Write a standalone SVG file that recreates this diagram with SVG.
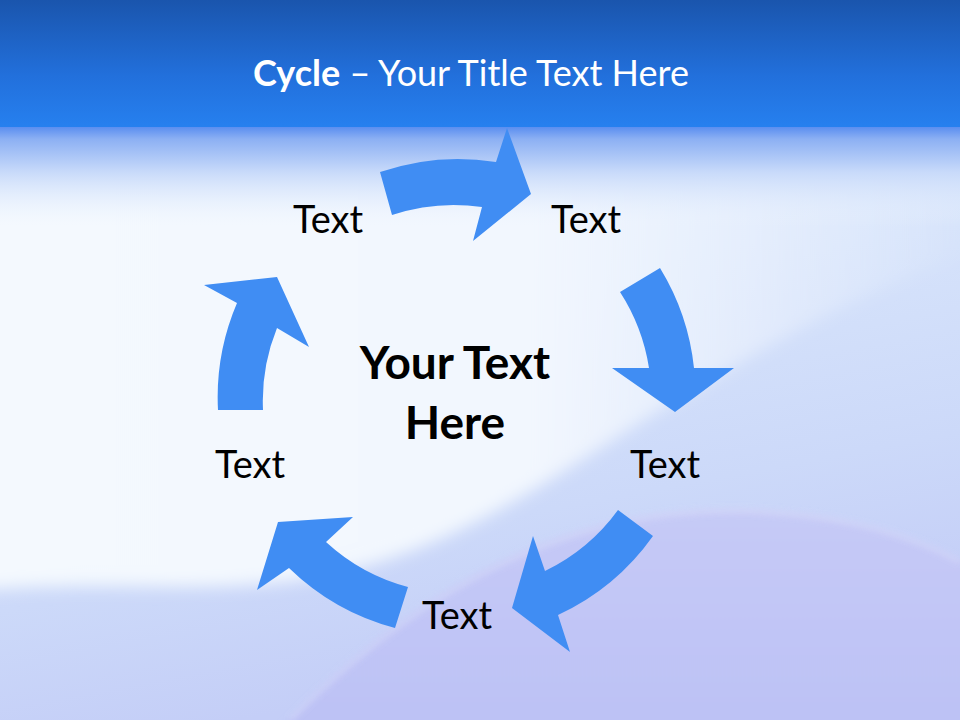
<svg xmlns="http://www.w3.org/2000/svg" width="960" height="720" viewBox="0 0 960 720">
  <defs>
    <linearGradient id="bgBase" x1="0" y1="0" x2="0.25" y2="1">
      <stop offset="0" stop-color="#e6effd"/>
      <stop offset="0.5" stop-color="#d7e4fb"/>
      <stop offset="0.8" stop-color="#ccd9f9"/>
      <stop offset="1" stop-color="#c4cef7"/>
    </linearGradient>
    <linearGradient id="whiteArea" x1="0" y1="0" x2="1" y2="0">
      <stop offset="0" stop-color="#f4f9fe"/>
      <stop offset="0.55" stop-color="#f2f7fe"/>
      <stop offset="1" stop-color="#f2f7fe" stop-opacity="0"/>
    </linearGradient>
    <linearGradient id="hump" x1="0" y1="0" x2="0" y2="1">
      <stop offset="0" stop-color="#c6caf6"/>
      <stop offset="1" stop-color="#bcc1f5"/>
    </linearGradient>
    <linearGradient id="header" x1="0" y1="0" x2="0" y2="1">
      <stop offset="0" stop-color="#1a55ad"/>
      <stop offset="0.6" stop-color="#2270dc"/>
      <stop offset="1" stop-color="#2680ef"/>
    </linearGradient>
    <linearGradient id="headerFade" x1="0" y1="0" x2="0" y2="1">
      <stop offset="0" stop-color="#5a8ef0"/>
      <stop offset="0.12" stop-color="#8cb0f3"/>
      <stop offset="0.45" stop-color="#c8dafa"/>
      <stop offset="1" stop-color="#eef5fe" stop-opacity="0"/>
    </linearGradient>
    <filter id="soft" x="-10%" y="-10%" width="120%" height="120%">
      <feGaussianBlur stdDeviation="8"/>
    </filter>
    <filter id="soft2" x="-10%" y="-10%" width="120%" height="120%">
      <feGaussianBlur stdDeviation="3"/>
    </filter>
  </defs>
  <style>
    .arrow { fill: #408df3; }
    .lbl { font-family: Lato, "Open Sans", sans-serif; font-size: 38px; fill: #000; text-anchor: middle; }
    .center { font-family: Lato, "Open Sans", sans-serif; font-size: 46px; font-weight: bold; fill: #000; text-anchor: middle; }
    .title { font-family: Lato, "Open Sans", sans-serif; font-size: 36px; fill: #ffffff; text-anchor: middle; }
  </style>

  <!-- background -->
  <rect x="0" y="0" width="960" height="720" fill="url(#bgBase)"/>
  <path d="M-20,120 L980,120 L980,250 C860,290 760,350 660,410 C540,485 440,560 300,580 C200,594 100,580 -20,590 Z" fill="url(#whiteArea)" filter="url(#soft)"/>
  <path d="M270,740 C380,620 520,520 700,510 C820,505 910,530 980,570 L980,740 Z" fill="url(#hump)" filter="url(#soft2)"/>
  <path d="M290,720 C390,620 525,522 700,512 C820,507 905,532 960,562" fill="none" stroke="#dfe2fa" stroke-width="3" opacity="0.7" filter="url(#soft2)"/>
  <rect x="0" y="127" width="960" height="100" fill="url(#headerFade)"/>
  <rect x="0" y="0" width="960" height="127" fill="url(#header)"/>

  <!-- title -->
  <g id="title">
    <text class="title" x="471" y="86"><tspan font-weight="bold">Cycle</tspan> – Your Title Text Here</text>
  </g>

  <!-- connectors: cycle arrows -->
  <g id="connectors">
    <path class="arrow" d="M380,172 A240,240 0 0,1 496,162 L507,128 L531,194 L473,241 L482,207 A195,195 0 0,0 392,215 Z"/>
    <path class="arrow" d="M660,268 A240,240 0 0,1 694,368 L734,368 L675,412 L612,368 L649,368 A195,195 0 0,0 620,292 Z"/>
    <path class="arrow" d="M653,536 A240,240 0 0,1 558,615 L570,652 L512,608 L533,536 L545,571 A195,195 0 0,0 618,510 Z"/>
    <path class="arrow" d="M395,628 A240,240 0 0,1 289,568 L257,590 L278,522 L353,517 L326,542 A195,195 0 0,0 408,587 Z"/>
    <path class="arrow" d="M218,410 A240,240 0 0,1 237,303 L204,285 L277,277 L309,347 L277,328 A195,195 0 0,0 263,410 Z"/>
  </g>

  <!-- nodes -->
  <g id="node-center">
    <text class="center" x="455" y="379">Your Text</text>
    <text class="center" x="455" y="439">Here</text>
  </g>
  <g id="node-1"><text class="lbl" x="328" y="233">Text</text></g>
  <g id="node-2"><text class="lbl" x="586" y="233">Text</text></g>
  <g id="node-3"><text class="lbl" x="665" y="478">Text</text></g>
  <g id="node-4"><text class="lbl" x="457" y="629">Text</text></g>
  <g id="node-5"><text class="lbl" x="250" y="478">Text</text></g>
</svg>
